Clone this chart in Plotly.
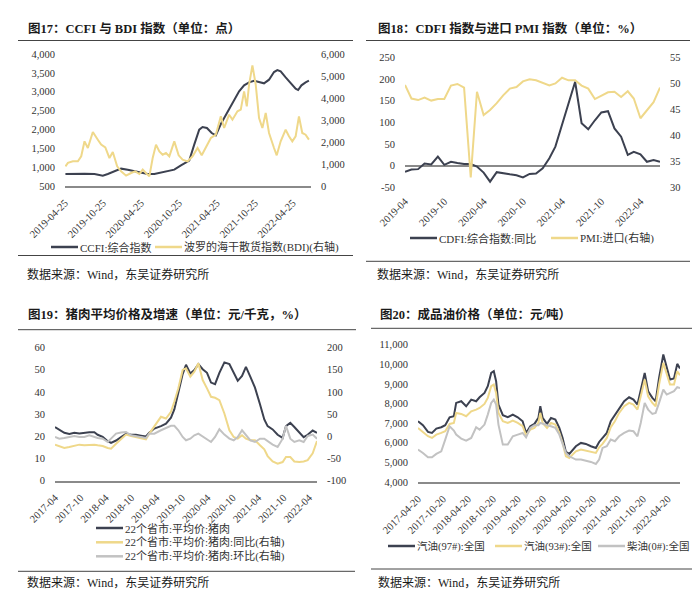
import pandas as pd
import plotly.graph_objects as go

# ---------------- data ----------------
ccfi_dates = ['2019-04-27','2019-06-10','2019-07-28','2019-09-14','2019-10-24','2019-11-17','2019-12-19',
              '2020-01-20','2020-02-21','2020-03-24','2020-04-25','2020-05-27','2020-06-28','2020-07-30',
              '2020-08-31','2020-10-02','2020-11-03','2020-11-27','2020-12-13','2021-01-06','2021-01-30',
              '2021-02-15','2021-03-08','2021-03-31','2021-04-20','2021-05-14','2021-06-07','2021-07-01',
              '2021-07-25','2021-08-10','2021-09-03','2021-09-27','2021-10-21','2021-11-14','2021-12-08',
              '2022-01-01','2022-01-25','2022-02-10','2022-02-26','2022-03-22','2022-04-15','2022-05-09',
              '2022-05-21','2022-06-06','2022-06-26','2022-07-12']
ccfi_values = [818, 812, 825, 820, 774, 818, 889, 960, 933, 889, 845, 818, 818, 854, 889, 933, 1048,
               1110, 1172, 1596, 1993, 2064, 2038, 1905, 1843, 2144, 2391, 2612, 2877, 3010, 3169, 3248,
               3292, 3257, 3222, 3319, 3522, 3575, 3540, 3381, 3231, 3080, 3045, 3169, 3248, 3292]

bdi_dates = ['2019-04-27','2019-05-09','2019-06-02','2019-06-26','2019-07-12','2019-07-28','2019-08-13',
             '2019-09-06','2019-09-30','2019-10-16','2019-11-05','2019-11-25','2019-12-11',
             '2020-01-01','2020-01-20','2020-02-13','2020-03-08','2020-03-28','2020-04-17','2020-05-03',
             '2020-05-23','2020-06-04','2020-06-20','2020-07-06','2020-07-22','2020-08-07','2020-08-23',
             '2020-09-08','2020-10-02','2020-10-23','2020-11-11','2020-12-05','2020-12-29',
             '2021-01-22','2021-02-11','2021-03-03','2021-03-27','2021-04-20','2021-05-14','2021-05-30',
             '2021-06-23','2021-07-09','2021-08-02','2021-08-18','2021-09-03','2021-09-16','2021-09-27',
             '2021-10-13','2021-10-29','2021-11-14','2021-11-30','2021-12-16',
             '2022-01-01','2022-01-25','2022-02-07','2022-02-26','2022-03-22','2022-04-07','2022-04-23',
             '2022-05-09','2022-05-25','2022-06-10','2022-06-26','2022-07-12']
bdi_values = [895, 1050, 1120, 1120, 1350, 2030, 1727, 2455, 2106, 1880, 1757, 1272, 1545,
              895, 667, 470, 590, 667, 545, 745, 545, 440, 1272, 1880, 1575, 1424, 1500, 1350, 2030,
              1394, 1197, 1120, 1350,
              1727, 1394, 1727, 2182, 2333, 3167, 2636, 3242, 3015, 3394, 3470, 4303, 3620, 4606, 5485,
              4606, 3091, 2636, 3318,
              2409, 1727, 1394, 2030, 2560, 2258, 2030, 2258, 3167, 2409, 2333, 2106]

cdfi_months = pd.date_range("2019-04-01", periods=40, freq="MS")
cdfi_yoy = [-14, -9, -8, 5, 3, 21, 2, 9, 6, 4, 4, -2, -16, -37, -15, -18, -20, -22, -27, -19,
            -18, -6, 17, 44, 94, 148, 194, 98, 84, 105, 123, 126, 86, 67, 25, 32, 26, 9, 13, 9]
pmi_import = [49.7, 47.1, 46.8, 47.3, 46.7, 47.0, 47.0, 49.6, 49.9, 49.2, 31.9, 48.4, 43.9, 44.9,
              46.2, 47.7, 49.0, 49.3, 50.4, 50.8, 50.6, 50.1, 49.6, 50.0, 51.1, 50.6, 50.6, 49.6,
              49.0, 47.0, 47.7, 48.3, 48.4, 47.4, 48.5, 47.1, 43.3, 44.9, 46.4, 49.2]

pork_dates = ['2017-04-01','2017-05-02','2017-06-07','2017-07-13','2017-08-18','2017-09-23','2017-10-29',
              '2017-12-04','2018-01-09','2018-02-02','2018-03-10','2018-04-15','2018-05-09','2018-06-14',
              '2018-07-20','2018-08-25','2018-09-30','2018-11-04','2018-12-10','2019-01-15','2019-02-08',
              '2019-03-16','2019-05-03','2019-06-08','2019-07-14','2019-08-07','2019-09-05','2019-10-06',
              '2019-10-30','2019-11-30','2019-12-29','2020-01-27','2020-02-27','2020-03-29','2020-04-27',
              '2020-05-26','2020-06-26','2020-08-01','2020-09-06','2020-10-07','2020-11-05','2020-12-06',
              '2021-01-03','2021-02-04','2021-03-09','2021-04-14','2021-05-15','2021-06-08','2021-07-14',
              '2021-08-19','2021-09-24','2021-10-18','2021-11-18','2021-12-17','2022-01-22','2022-02-22',
              '2022-03-23','2022-04-28','2022-05-29']
pork_price = [24.2, 23.0, 21.6, 21.1, 21.6, 21.3, 21.6, 21.8, 21.8, 20.7, 19.8, 17.8, 17.0, 18.1,
              19.6, 21.1, 20.7, 20.7, 20.3, 19.9, 21.6, 23.5, 24.6, 25.7, 28.4, 32.1, 39.7, 48.0,
              52.2, 48.3, 49.8, 52.5, 50.2, 48.6, 44.2, 43.5, 48.6, 53.3, 52.5, 48.6, 45.0, 47.2,
              51.3, 46.8, 41.9, 34.4, 27.6, 24.6, 23.1, 20.7, 19.3, 24.6, 26.1, 24.2, 21.6, 19.6,
              20.7, 22.6, 21.6]
pork_yoy = [-18.8, -21.8, -26.3, -24.0, -21.8, -18.8, -20.3, -18.8, -18.8, -20.3, -21.8, -26.3, -27.8,
            -16.6, -6.8, 3.8, 0.8, -1.5, -3.8, -6.8, 6.0, 23.5, 43.9, 40.1, 55.2, 77.8, 108.0, 149.5,
            153.0, 134.3, 145.6, 164.5, 126.7, 107.9, 89.0, 86.8, 81.5, 51.3, 13.6, -1.5, -5.3, 2.3,
            -5.3, -9.0, -9.0, -20.3, -29.4, -44.5, -56.6, -61.8, -58.0, -46.7, -46.7, -56.6, -58.0,
            -56.6, -53.6, -38.5, -10.6]
pork_mom = [-1.4, -5.3, -3.8, -1.5, 0.8, -1.5, -1.5, 2.3, -1.5, -3.8, -5.3, -12.8, -5.3, 6.0, 8.3,
            9.8, 2.3, 0.8, -1.5, -3.8, 6.0, 6.0, 13.6, 18.9, 23.5, 23.5, 13.6, -1.5, -9.0, -5.3, 2.3,
            6.0, 0.0, -6.8, -12.8, -1.5, 15.9, 3.8, -5.3, -9.0, -1.5, 13.6, 3.8, -9.0, -12.8, -5.3,
            -5.3, -11.3, -18.8, -24.0, -5.3, 23.5, -5.3, -12.8, -9.0, -12.8, 0.8, 3.8, -5.3]

oil_dates = ['2017-04-20','2017-05-26','2017-07-02','2017-07-31','2017-09-01','2017-10-07','2017-11-05',
             '2017-12-07','2018-01-07','2018-01-24','2018-03-02','2018-04-07','2018-05-14','2018-06-19',
             '2018-07-14','2018-08-19','2018-09-12','2018-10-07','2018-10-26','2018-11-12','2018-11-29',
             '2018-12-31','2019-02-05','2019-03-14','2019-04-19','2019-05-25','2019-06-19','2019-07-20',
             '2019-08-19','2019-09-17','2019-10-01','2019-10-18','2019-11-19','2019-12-18','2020-01-19',
             '2020-02-17','2020-03-12','2020-04-05','2020-04-30','2020-05-24','2020-06-17','2020-07-24',
             '2020-08-29','2020-10-05','2020-11-10','2020-12-04','2020-12-29','2021-01-29','2021-02-27',
             '2021-03-29','2021-04-29','2021-06-05','2021-07-11','2021-08-12','2021-09-10','2021-10-04',
             '2021-11-02','2021-11-27','2021-12-28','2022-01-21','2022-02-15','2022-03-18','2022-04-12',
             '2022-05-06','2022-06-04','2022-06-28','2022-07-18']
gasoline97 = [7097, 6893, 6553, 6502, 6723, 6791, 6893, 7301, 7352, 8032, 8117, 7862, 8202, 8117, 8321,
              8542, 8882, 9563, 9648, 9138, 7947, 7403, 7301, 7437, 7301, 7097, 6502, 6842, 6961, 7267,
              7862, 7267, 6961, 7267, 7182, 6757, 6247, 5533, 5431, 5652, 5822, 5993, 5942, 5822, 5737,
              6042, 6247, 6502, 7097, 7403, 7777, 8117, 8321, 8202, 7947, 8627, 9563, 8627, 8287, 8117,
              9308, 10498, 9903, 9223, 9274, 10022, 9784]
gasoline93 = [6757, 6553, 6332, 6247, 6417, 6502, 6587, 6961, 7012, 7522, 7471, 7352, 7607, 7692, 7777,
              7981, 8287, 8882, 8967, 8542, 7522, 7097, 7012, 7131, 7012, 6842, 6383, 6672, 6757, 7012,
              7522, 7012, 6757, 7012, 6927, 6502, 5993, 5312, 5227, 5397, 5567, 5652, 5601, 5533, 5482,
              5771, 5942, 6247, 6791, 7097, 7522, 7862, 8032, 7947, 7692, 8372, 9223, 8372, 8032, 7862,
              8967, 10073, 9563, 8967, 8967, 9648, 9444]
diesel0 = [5652, 5482, 5261, 5261, 5431, 5567, 6162, 6842, 6621, 6417, 6213, 6111, 6247, 6791, 6672,
           6927, 7437, 8032, 8202, 7947, 6927, 5907, 5907, 6332, 6417, 6502, 6281, 6757, 6893, 6893,
           7012, 6961, 6893, 6842, 6757, 6417, 5907, 5482, 5312, 5227, 5142, 5142, 5091, 5023, 4921,
           5142, 5737, 5822, 6162, 6077, 6332, 6502, 6621, 6587, 6332, 7012, 8032, 7692, 7471, 7522,
           8032, 8712, 8457, 8542, 8627, 8831, 8797]

# tick labels
p1_xticks = ['2019-04-25', '2019-10-25', '2020-04-25', '2020-10-25', '2021-04-25', '2021-10-25', '2022-04-25']
p2_xticks = ['2019-04', '2019-10', '2020-04', '2020-10', '2021-04', '2021-10', '2022-04']
p3_xticks = ['2017-04', '2017-10', '2018-04', '2018-10', '2019-04', '2019-10', '2020-04', '2020-10',
             '2021-04', '2021-10', '2022-04']
p4_xticks = ['2017-04-20', '2017-10-20', '2018-04-20', '2018-10-20', '2019-04-20', '2019-10-20',
             '2020-04-20', '2020-10-20', '2021-04-20', '2021-10-20', '2022-04-20']
p1_left = [500, 1000, 1500, 2000, 2500, 3000, 3500, 4000]
p1_right = [0, 1000, 2000, 3000, 4000, 5000, 6000]
p2_left = [-50, 0, 50, 100, 150, 200, 250]
p2_right = [30, 35, 40, 45, 50, 55]
p3_left = [0, 10, 20, 30, 40, 50, 60]
p3_right = [-100, -50, 0, 50, 100, 150, 200]
p4_left = [4000, 5000, 6000, 7000, 8000, 9000, 10000, 11000]

# ---------------- style ----------------
W, H = 700, 593
FONT = "Liberation Serif, Noto Sans CJK SC, serif"
DARK = "#3c4150"
YEL = "#efd88a"
GREY = "#c2c2c2"
AXIS = "#8a8a8a"
TXT = "#333333"


def px(x):
    return x / W


def py(y):
    return 1 - y / H


def fmt(v):
    return f"{v:,}"


def xaxis(dom, anchor, rng, vals, texts, line=True):
    return dict(domain=[px(dom[0]), px(dom[1])], anchor=anchor, type="date", range=rng,
                tickmode="array", tickvals=vals, ticktext=texts, tickangle=-45,
                showgrid=False, zeroline=False, showline=line, linecolor=AXIS, linewidth=1.5,
                ticks="", ticklabelstandoff=5, automargin=False,
                tickfont=dict(family=FONT, size=10.5, color=TXT), fixedrange=True)


def yaxis(dom, anchor, rng, vals, side="left", overlaying=None, zero=False):
    d = dict(domain=[py(dom[0]), py(dom[1])], anchor=anchor, range=rng, side=side,
             tickmode="array", tickvals=vals, ticktext=[fmt(v) for v in vals],
             showgrid=False, zeroline=zero, zerolinecolor=AXIS, zerolinewidth=1.5,
             showline=False, ticks="", ticklabelstandoff=9, automargin=False,
             tickfont=dict(family=FONT, size=10.5, color=TXT), fixedrange=True)
    if overlaying:
        d["overlaying"] = overlaying
    return d


fig = go.Figure()

series = [
    # x, y, name, color, xaxis, yaxis
    (ccfi_dates, ccfi_values, "CCFI:综合指数", DARK, "x", "y"),
    (bdi_dates, bdi_values, "波罗的海干散货指数(BDI)(右轴)", YEL, "x", "y2"),
    (cdfi_months, cdfi_yoy, "CDFI:综合指数:同比", DARK, "x2", "y3"),
    (cdfi_months, pmi_import, "PMI:进口(右轴)", YEL, "x2", "y4"),
    (pork_dates, pork_price, "22个省市:平均价:猪肉", DARK, "x3", "y5"),
    (pork_dates, pork_yoy, "22个省市:平均价:猪肉:同比(右轴)", YEL, "x3", "y6"),
    (pork_dates, pork_mom, "22个省市:平均价:猪肉:环比(右轴)", GREY, "x3", "y6"),
    (oil_dates, gasoline97, "汽油(97#):全国", DARK, "x4", "y7"),
    (oil_dates, gasoline93, "汽油(93#):全国", YEL, "x4", "y7"),
    (oil_dates, diesel0, "柴油(0#):全国", GREY, "x4", "y7"),
]
for xs, ys, name, col, xa, ya in series:
    fig.add_trace(go.Scatter(x=xs, y=ys, name=name, mode="lines", showlegend=False,
                             line=dict(color=col, width=2), xaxis=xa, yaxis=ya))

fig.update_layout(
    width=W, height=H, margin=dict(l=0, r=0, t=0, b=0, autoexpand=False), autosize=False,
    paper_bgcolor="white", plot_bgcolor="white",
    font=dict(family=FONT, color=TXT), showlegend=False,
    xaxis=xaxis((57, 303), "y", ["2019-04-25", "2022-07-22"], p1_xticks, p1_xticks),
    yaxis=yaxis((178, 46), "x", [500, 4000], p1_left),
    yaxis2=yaxis((178, 46), "x", [0, 6000], p1_right, side="right", overlaying="y"),
    xaxis2=xaxis((397, 652), "y3", ["2019-04-01", "2022-07-01"], [t + "-01" for t in p2_xticks],
                 p2_xticks, line=False),
    yaxis3=yaxis((179.3, 49.5), "x2", [-50, 250], p2_left, zero=True),
    yaxis4=yaxis((179.3, 49.5), "x2", [30, 55], p2_right, side="right", overlaying="y3"),
    xaxis3=xaxis((47, 309), "y5", ["2017-04-01", "2022-05-29"], [t + "-01" for t in p3_xticks], p3_xticks),
    yaxis5=yaxis((472.7, 339.5), "x3", [0, 60], p3_left),
    yaxis6=yaxis((472.7, 339.5), "x3", [-100, 200], p3_right, side="right", overlaying="y5"),
    xaxis4=xaxis((410, 672), "y7", ["2017-04-20", "2022-07-18"], p4_xticks, p4_xticks),
    yaxis7=yaxis((474, 336.7), "x4", [4000, 11000], p4_left),
)

# legend keys (line sample + label) per panel
legend_keys = [
    (43, 239, 0, 11), (147, 239, 1, 11),
    (402, 230, 2, 11), (543, 230, 3, 11),
    (88, 520, 4, 11), (88, 534.3, 5, 11), (88, 548.3, 6, 11),
    (380, 538, 7, 10.5), (487, 538, 8, 10.5), (590, 538, 9, 10.5),
]
for x, y, i, fs in legend_keys:
    name, col = series[i][2], series[i][3]
    fig.add_shape(type="line", xref="paper", yref="paper", x0=px(x), x1=px(x + 27), y0=py(y), y1=py(y),
                  line=dict(color=col, width=2.5))
    fig.add_annotation(x=px(x + 27), y=py(y), xref="paper", yref="paper", xanchor="left", yanchor="middle",
                       text=name, showarrow=False, font=dict(family=FONT, size=fs, color=TXT))

# titles, separators, sources
titles = [(18, 20.5, "图17：CCFI 与 BDI 指数（单位：点）"),
          (368, 20.5, "图18：CDFI 指数与进口 PMI 指数（单位：%）"),
          (18, 306.7, "图19：猪肉平均价格及增速（单位：元/千克，%）"),
          (370, 306.7, "图20：成品油价格（单位：元/吨）")]
for x, y, t in titles:
    fig.add_annotation(x=px(x), y=py(y), xref="paper", yref="paper", xanchor="left", yanchor="middle",
                       text="<b>" + t + "</b>", showarrow=False,
                       font=dict(family=FONT, size=12.5, color="#1a1a1a"))

sources = [(17, 266), (367, 266), (17, 574), (368, 574)]
for x, y in sources:
    fig.add_annotation(x=px(x), y=py(y), xref="paper", yref="paper", xanchor="left", yanchor="middle",
                       text="数据来源：Wind，东吴证券研究所", showarrow=False,
                       font=dict(family=FONT, size=12, color="#1a1a1a"))

rules = [(10, 345, 32.5), (10, 345, 247.5), (358, 682, 32.5), (358, 682, 253.3),
         (10, 348, 321.7), (10, 347, 563.3), (363, 693, 320.3), (363, 693, 561)]
for x0, x1, y in rules:
    fig.add_shape(type="line", xref="paper", yref="paper", x0=px(x0), x1=px(x1), y0=py(y), y1=py(y),
                  line=dict(color="#444444", width=1))

fig.write_html("out.html", config={"displayModeBar": False})
